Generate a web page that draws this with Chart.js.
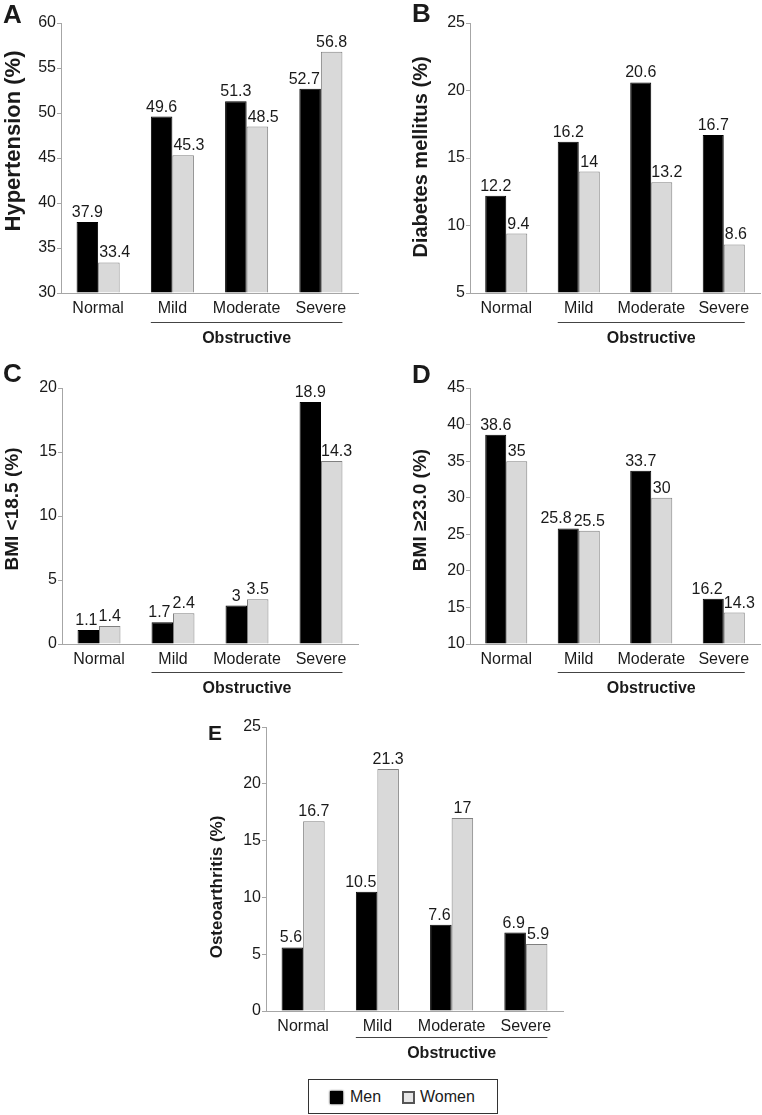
<!DOCTYPE html>
<html>
<head>
<meta charset="utf-8">
<script src="https://cdn.jsdelivr.net/npm/chart.js@4"></script>
<style>
  body { margin: 0; background: #fff; width: 762px; height: 1115px; position: relative; overflow: hidden; font-family: "Liberation Sans", Arial, sans-serif; }
  canvas { position: absolute; }
  #legend { position: absolute; left: 308px; top: 1079px; width: 188px; height: 33px; border: 1px solid #333; box-sizing: content-box; }
  #legend span { position: absolute; top: 8px; font-size: 16px; color: #1a1a1a; }
  #legend i { position: absolute; top: 11px; width: 13px; height: 13px; box-sizing: border-box; }
</style>
</head>
<body>
<canvas id="chartA" width="370" height="345" style="left:0px;top:0px"></canvas>
<canvas id="chartB" width="382" height="345" style="left:380px;top:0px"></canvas>
<canvas id="chartC" width="370" height="355" style="left:0px;top:340px"></canvas>
<canvas id="chartD" width="382" height="355" style="left:380px;top:340px"></canvas>
<canvas id="chartE" width="390" height="365" style="left:190px;top:695px"></canvas>
<div id="legend">
  <i style="left:21px;background:#000;box-shadow:0 0 2px #000"></i><span style="left:41px">Men</span>
  <i style="left:93px;background:#e6e6e6;border:2px solid #555"></i><span style="left:111px">Women</span>
</div>
<script>
const categories = ['Normal', 'Mild', 'Moderate', 'Severe'];

// A - hypertension
const hypertensionMen = [37.9, 49.6, 51.3, 52.7];
const hypertensionWomen = [33.4, 45.3, 48.5, 56.8];
// B - diabetes
const diabetesMen = [12.2, 16.2, 20.6, 16.7];
const diabetesWomen = [9.4, 14, 13.2, 8.6];
// C - BMI < 18.5
const bmiLowMen = [1.1, 1.7, 3, 18.9];
const bmiLowWomen = [1.4, 2.4, 3.5, 14.3];
// D - BMI >= 23.0
const bmiHighMen = [38.6, 25.8, 33.7, 16.2];
const bmiHighWomen = [35, 25.5, 30, 14.3];
// E - osteoarthritis
const oaMen = [5.6, 10.5, 7.6, 6.9];
const oaWomen = [16.7, 21.3, 17, 5.9];

const FONT = '"Liberation Sans", Arial, sans-serif';

// draws value labels, panel letter, y title and the "Obstructive" bracket
const panelDecor = {
    id: 'panelDecor',
    afterDatasetsDraw(chart, args, o) {
        const ctx = chart.ctx;
        ctx.save();
        ctx.fillStyle = '#1a1a1a';
        ctx.font = '16px ' + FONT;
        ctx.textAlign = 'center';
        ctx.textBaseline = 'alphabetic';

        // value labels, nudged sideways so they don't sit on the other bar or on each other
        const menBars = chart.getDatasetMeta(0).data;
        const womenBars = chart.getDatasetMeta(1).data;
        const menVals = chart.data.datasets[0].data;
        const womenVals = chart.data.datasets[1].data;
        menBars.forEach(function(mb, j) {
            const wb = womenBars[j];
            const t0 = String(menVals[j]);
            const t1 = String(womenVals[j]);
            const m0 = ctx.measureText(t0);
            const m1 = ctx.measureText(t1);
            let x0 = mb.x, x1 = wb.x;
            const y0 = mb.y - 5, y1 = wb.y - 5;
            if (y1 > mb.y && x1 - m1.actualBoundingBoxLeft < mb.x + mb.width / 2 + 1) {
                x1 = mb.x + mb.width / 2 + 1 + m1.actualBoundingBoxLeft;
            }
            if (y0 > wb.y && x0 + m0.actualBoundingBoxRight > wb.x - wb.width / 2 - 1) {
                x0 = wb.x - wb.width / 2 - 1 - m0.actualBoundingBoxRight;
            }
            if (Math.abs(y0 - y1) < 16) {
                const ov = (x0 + m0.actualBoundingBoxRight + 2) - (x1 - m1.actualBoundingBoxLeft);
                if (ov > 0) x0 -= ov;
            }
            ctx.fillText(t0, x0, y0);
            ctx.fillText(t1, x1, y1);
        });

        // bracket under Mild..Severe
        const first = menBars[1];
        const last = womenBars[3];
        const bx1 = first.x - first.width / 2;
        const bx2 = last.x + last.width / 2;
        const ly = chart.chartArea.bottom + o.lineGap + 0.5;
        ctx.strokeStyle = '#444';
        ctx.lineWidth = 1;
        ctx.beginPath();
        ctx.moveTo(bx1, ly);
        ctx.lineTo(bx2, ly);
        ctx.stroke();
        ctx.font = 'bold 16px ' + FONT;
        ctx.fillText('Obstructive', (bx1 + bx2) / 2, ly + 20);

        // panel letter
        ctx.textAlign = 'left';
        ctx.font = 'bold ' + o.letterSize + 'px ' + FONT;
        ctx.fillText(o.letter, o.letterX - o.left, o.letterY - o.top);

        // y axis title
        ctx.translate(o.titleX - o.left, o.titleY - o.top);
        ctx.rotate(-Math.PI / 2);
        ctx.textAlign = 'center';
        ctx.textBaseline = 'middle';
        ctx.font = 'bold ' + o.titleSize + 'px ' + FONT;
        ctx.fillText(o.title, 0, 0);
        ctx.restore();
    }
};

function makeChart(id, men, women, p) {
    const ctx = document.getElementById(id).getContext('2d');
    return new Chart(ctx, {
        type: 'bar',
        data: {
            labels: categories,
            datasets: [{
                label: 'Men',
                data: men,
                base: p.yMin,
                backgroundColor: '#000000',
                borderColor: '#000000',
                borderWidth: 1
            }, {
                label: 'Women',
                data: women,
                base: p.yMin,
                backgroundColor: '#d9d9d9',
                borderColor: '#808080',
                borderWidth: 1
            }]
        },
        options: {
            responsive: false,
            animation: false,
            layout: {
                padding: { top: p.padTop, right: p.padRight, left: 0, bottom: 0 }
            },
            datasets: {
                bar: { categoryPercentage: 0.58, barPercentage: 1 }
            },
            plugins: {
                legend: { display: false },
                tooltip: { enabled: false },
                panelDecor: p
            },
            scales: {
                x: {
                    grid: { display: false, drawTicks: false },
                    border: { display: true, color: '#a6a6a6', width: 1 },
                    ticks: {
                        color: '#1a1a1a', font: { family: FONT, size: 16 }, padding: 6,
                        maxRotation: 0, minRotation: 0, autoSkip: false
                    },
                    afterFit: function(scale) { scale.height = p.xHeight; }
                },
                y: {
                    min: p.yMin,
                    max: p.yMax,
                    grid: { drawOnChartArea: false, drawTicks: true, tickLength: 4, color: '#a6a6a6' },
                    border: { display: true, color: '#a6a6a6', width: 1 },
                    ticks: { stepSize: 5, color: '#1a1a1a', font: { family: FONT, size: 16 }, padding: 1 },
                    afterFit: function(scale) { scale.width = p.yWidth; }
                }
            }
        },
        plugins: [panelDecor]
    });
}

// Panel A
makeChart('chartA', hypertensionMen, hypertensionWomen, {
    left: 0, top: 0, padTop: 23, padRight: 12, yWidth: 61, xHeight: 52,
    yMin: 30, yMax: 60, lineGap: 29,
    letter: 'A', letterX: 3, letterY: 23, letterSize: 26,
    title: 'Hypertension (%)', titleX: 14, titleY: 141, titleSize: 22
});

// Panel B
makeChart('chartB', diabetesMen, diabetesWomen, {
    left: 380, top: 0, padTop: 23, padRight: 2, yWidth: 90, xHeight: 52,
    yMin: 5, yMax: 25, lineGap: 29,
    letter: 'B', letterX: 412, letterY: 22, letterSize: 26,
    title: 'Diabetes mellitus (%)', titleX: 421, titleY: 157, titleSize: 20
});

// Panel C
makeChart('chartC', bmiLowMen, bmiLowWomen, {
    left: 0, top: 340, padTop: 48, padRight: 12, yWidth: 62, xHeight: 51,
    yMin: 0, yMax: 20, lineGap: 28,
    letter: 'C', letterX: 3, letterY: 382, letterSize: 26,
    title: 'BMI <18.5 (%)', titleX: 13, titleY: 509, titleSize: 19
});

// Panel D
makeChart('chartD', bmiHighMen, bmiHighWomen, {
    left: 380, top: 340, padTop: 48, padRight: 2, yWidth: 90, xHeight: 51,
    yMin: 10, yMax: 45, lineGap: 28,
    letter: 'D', letterX: 412, letterY: 383, letterSize: 26,
    title: 'BMI \u226523.0 (%)', titleX: 421, titleY: 510, titleSize: 19
});

// Panel E
makeChart('chartE', oaMen, oaWomen, {
    left: 190, top: 695, padTop: 32, padRight: 17, yWidth: 76, xHeight: 49,
    yMin: 0, yMax: 25, lineGap: 26,
    letter: 'E', letterX: 208, letterY: 740, letterSize: 21,
    title: 'Osteoarthritis (%)', titleX: 217, titleY: 887, titleSize: 17
});
</script>
</body>
</html>
